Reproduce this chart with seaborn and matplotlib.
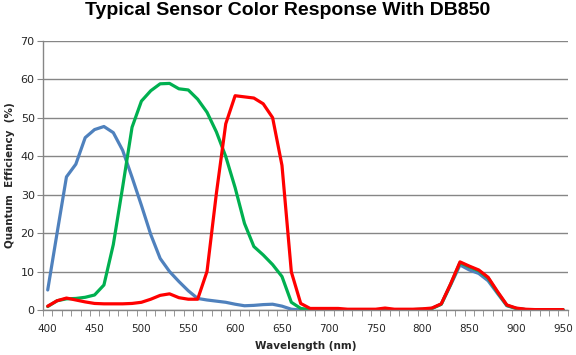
import numpy as np
import pandas as pd
import matplotlib
matplotlib.use("Agg")
import matplotlib.pyplot as plt
import seaborn as sns

wavelength = list(range(400, 960, 10))

blue = [5.2, 20.0, 34.6, 37.9, 44.8, 46.9, 47.7, 46.1, 41.5, 34.5,
        27.2, 19.6, 13.4, 10.0, 7.4, 5.0, 3.0, 2.6, 2.3, 2.0,
        1.5, 1.1, 1.2, 1.4, 1.5, 1.0, 0.2, 0.0, 0.0, 0.0,
        0.0, 0.0, 0.0, 0.0, 0.0, 0.0, 0.0, 0.0, 0.0, 0.0,
        0.0, 0.4, 1.5, 6.5, 11.7, 10.4, 9.5, 7.6, 4.3, 1.1,
        0.4, 0.1, 0.0, 0.0, 0.0, 0.0]

green = [0.9, 2.4, 2.9, 3.0, 3.3, 3.9, 6.5, 17.0, 32.0, 47.5,
         54.3, 57.0, 58.8, 58.9, 57.5, 57.2, 54.8, 51.4, 46.3, 39.9,
         31.8, 22.5, 16.5, 14.3, 11.8, 8.7, 2.0, 0.4, 0.1, 0.1,
         0.1, 0.1, 0.1, 0.1, 0.1, 0.1, 0.1, 0.1, 0.1, 0.1,
         0.2, 0.4, 1.5, 6.7, 12.3, 11.2, 10.2, 8.3, 4.6, 1.2,
         0.4, 0.1, 0.1, 0.1, 0.1, 0.1]

red = [1.0, 2.4, 3.1, 2.6, 2.1, 1.7, 1.6, 1.6, 1.6, 1.7,
       2.0, 2.8, 3.8, 4.2, 3.2, 2.8, 2.8, 10.0, 30.3, 48.4,
       55.7, 55.4, 55.1, 53.6, 50.0, 37.6, 9.9, 1.7, 0.4, 0.4,
       0.4, 0.4, 0.2, 0.2, 0.2, 0.2, 0.5, 0.2, 0.2, 0.2,
       0.3, 0.5, 1.6, 6.8, 12.5, 11.4, 10.4, 8.5, 4.8, 1.3,
       0.5, 0.2, 0.1, 0.1, 0.1, 0.1]

df = pd.DataFrame({
    'Wavelength': wavelength * 3,
    'QE': blue + green + red,
    'Channel': ['Blue'] * len(blue) + ['Green'] * len(green) + ['Red'] * len(red),
})

sns.set_style("white")
plt.rcParams['font.family'] = ['DejaVu Sans']

fig = plt.figure(figsize=(5.76, 3.55), dpi=100)
ax = fig.add_axes([0.0747, 0.1268, 0.911, 0.7585])

sns.lineplot(data=df, x='Wavelength', y='QE', hue='Channel',
             palette={'Blue': '#4F81BD', 'Green': '#00B050', 'Red': '#FF0000'},
             hue_order=['Blue', 'Green', 'Red'], linewidth=2.3,
             legend=False, ax=ax)

ax.set_xlim(395, 955)
ax.set_ylim(0, 70)
ax.set_yticks(range(0, 80, 10))
ax.set_xticks(range(400, 1000, 50))
ax.set_xticks(np.arange(395, 960, 10), minor=True)
ax.tick_params(axis='x', which='major', length=0, labelsize=7.5, pad=10)
ax.tick_params(axis='x', which='minor', length=4, color='#868686', direction='out', bottom=True)
ax.tick_params(axis='y', length=4, color='#868686', direction='out', left=True, labelsize=8, pad=2)
ax.grid(axis='y', color='#868686', linewidth=1)
ax.set_axisbelow(True)

for s in ['top', 'right']:
    ax.spines[s].set_visible(False)
for s in ['left', 'bottom']:
    ax.spines[s].set_color('#868686')
    ax.spines[s].set_linewidth(1)

ax.set_xlabel('Wavelength (nm)', fontsize=7.5, fontweight='bold', labelpad=5)
ax.set_ylabel('Quantum  Efficiency  (%)', fontsize=7.5, fontweight='bold', labelpad=4)
fig.suptitle('Typical Sensor Color Response With DB850', fontsize=14, fontweight='bold',
             family=['Liberation Sans', 'DejaVu Sans'], color='black', y=0.995)

plt.savefig('out.png', dpi=100)
